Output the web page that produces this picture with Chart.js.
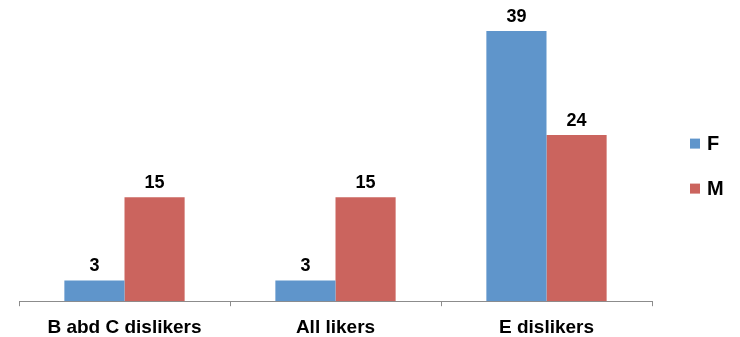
<!DOCTYPE html>
<html>
<head>
<meta charset="utf-8">
<script src="https://cdn.jsdelivr.net/npm/chart.js@4.4.1/dist/chart.umd.min.js"></script>
<style>
  html, body { margin: 0; padding: 0; background: #fff; }
  #wrap { width: 740px; height: 337px; position: relative; }
</style>
</head>
<body>
<div id="wrap"><canvas id="chart"></canvas></div>
<script>
const categories = ["B abd C dislikers", "All likers", "E dislikers"];
const femaleValues = [3, 3, 39];
const maleValues = [15, 15, 24];
const yMax = 39;

const fontFamily = "'Liberation Sans', Arial, sans-serif";

// draws the number above each bar
const barLabels = {
  id: "barLabels",
  afterDatasetsDraw(chart) {
    const ctx = chart.ctx;
    ctx.save();
    ctx.font = "bold 18px " + fontFamily;
    ctx.fillStyle = "#000";
    ctx.textAlign = "center";
    ctx.textBaseline = "bottom";
    chart.data.datasets.forEach((ds, i) => {
      chart.getDatasetMeta(i).data.forEach((bar, j) => {
        ctx.fillText(ds.data[j], bar.x, bar.y - 5);
      });
    });
    ctx.restore();
  }
};

// simple legend to the right of the plot, centred on the plot height
const sideLegend = {
  id: "sideLegend",
  afterDraw(chart) {
    const ctx = chart.ctx;
    const area = chart.chartArea;
    const mid = (area.top + area.bottom) / 2;
    const gap = 45;
    const n = chart.data.datasets.length;
    ctx.save();
    ctx.font = "bold 20px " + fontFamily;
    ctx.textBaseline = "middle";
    ctx.textAlign = "left";
    chart.data.datasets.forEach((ds, i) => {
      const y = mid + (i - (n - 1) / 2) * gap;
      const x = area.right + 38;
      ctx.fillStyle = ds.backgroundColor;
      ctx.fillRect(x, y - 5, 10, 10);
      ctx.fillStyle = "#000";
      ctx.fillText(ds.label, x + 17, y + 1);
    });
    ctx.restore();
  }
};

new Chart(document.getElementById("chart"), {
  type: "bar",
  data: {
    labels: categories,
    datasets: [
      { label: "F", data: femaleValues, backgroundColor: "#5F95CB" },
      { label: "M", data: maleValues, backgroundColor: "#CB645E" }
    ]
  },
  options: {
    responsive: true,
    maintainAspectRatio: false,
    animation: false,
    layout: { padding: { top: 31, left: 19, right: 88, bottom: -12 } },
    datasets: { bar: { categoryPercentage: 0.57, barPercentage: 1 } },
    plugins: {
      tooltip: { enabled: false },
      legend: { display: false }
    },
    scales: {
      x: {
        grid: { offset: true, drawOnChartArea: false, drawTicks: true, tickLength: 5, color: "#8c8c8c" },
        border: { display: true, color: "#8c8c8c" },
        ticks: {
          color: "#000",
          padding: 10,
          font: { family: fontFamily, size: 19, weight: "bold" }
        }
      },
      y: { display: false, min: 0, max: yMax }
    }
  },
  plugins: [barLabels, sideLegend]
});
</script>
</body>
</html>
